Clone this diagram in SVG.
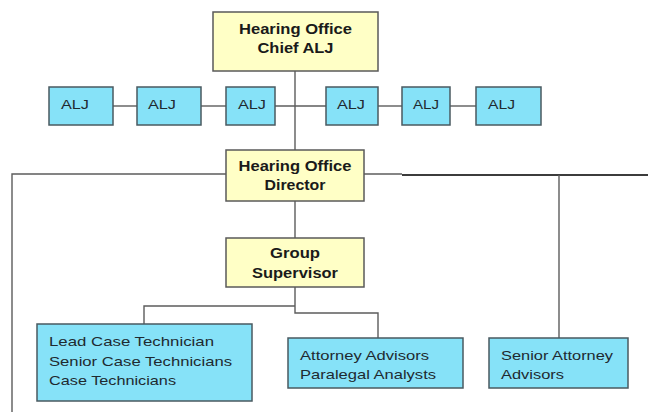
<svg xmlns="http://www.w3.org/2000/svg" width="648" height="412" viewBox="0 0 648 412">
<style>
.y{fill:#FFFFC6;stroke:#5a5a5a;stroke-width:1.5}
.b{fill:#86E2F8;stroke:#4a5a60;stroke-width:1.5}
.tb{font-family:"Liberation Sans",Arial,sans-serif;font-size:14px;font-weight:bold;fill:#1a1a1a;text-anchor:middle}
.t{font-family:"Liberation Sans",Arial,sans-serif;font-size:13.5px;fill:#1f2a30}
.c{stroke:#5c5c5c;stroke-width:1.4;fill:none}
</style>
<rect width="648" height="412" fill="#fff"/>
<g id="connectors">
<line class="c" x1="295" y1="71" x2="295" y2="150"/>
<line class="c" x1="113" y1="106" x2="137" y2="106"/>
<line class="c" x1="201" y1="106" x2="226" y2="106"/>
<line class="c" x1="275" y1="106" x2="326" y2="106"/>
<line class="c" x1="378" y1="106" x2="402" y2="106"/>
<line class="c" x1="450" y1="106" x2="476" y2="106"/>
<polyline class="c" points="226,174 12,174 12,412"/>
<line class="c" x1="364" y1="174" x2="402" y2="174"/>
<line x1="402" y1="175" x2="648" y2="175" stroke="#3c3c3c" stroke-width="2"/>
<line class="c" x1="559" y1="175" x2="559" y2="338"/>
<line class="c" x1="295" y1="201" x2="295" y2="238"/>
<polyline class="c" points="295,287 295,313 378,313 378,338"/>
<polyline class="c" points="295,306 144,306 144,324"/>
</g>
<g id="chief">
<rect class="y" x="213" y="12" width="165" height="59"/>
<text class="tb" x="295.5" y="34" textLength="113" lengthAdjust="spacingAndGlyphs">Hearing Office</text>
<text class="tb" x="295.5" y="53" textLength="76" lengthAdjust="spacingAndGlyphs">Chief ALJ</text>
</g>
<g id="alj1"><rect class="b" x="49" y="87" width="64" height="38"/><text class="t" x="61" y="109" textLength="28" lengthAdjust="spacingAndGlyphs">ALJ</text></g>
<g id="alj2"><rect class="b" x="137" y="87" width="64" height="38"/><text class="t" x="148" y="109" textLength="28" lengthAdjust="spacingAndGlyphs">ALJ</text></g>
<g id="alj3"><rect class="b" x="226" y="87" width="49" height="38"/><text class="t" x="238" y="109" textLength="28" lengthAdjust="spacingAndGlyphs">ALJ</text></g>
<g id="alj4"><rect class="b" x="326" y="87" width="52" height="38"/><text class="t" x="337" y="109" textLength="28" lengthAdjust="spacingAndGlyphs">ALJ</text></g>
<g id="alj5"><rect class="b" x="402" y="87" width="48" height="38"/><text class="t" x="413" y="109" textLength="26" lengthAdjust="spacingAndGlyphs">ALJ</text></g>
<g id="alj6"><rect class="b" x="476" y="87" width="65" height="38"/><text class="t" x="488" y="109" textLength="27" lengthAdjust="spacingAndGlyphs">ALJ</text></g>
<g id="director">
<rect class="y" x="226" y="150" width="138" height="51"/>
<text class="tb" x="295" y="171" textLength="113" lengthAdjust="spacingAndGlyphs">Hearing Office</text>
<text class="tb" x="295" y="190" textLength="61" lengthAdjust="spacingAndGlyphs">Director</text>
</g>
<g id="supervisor">
<rect class="y" x="226" y="238" width="138" height="49"/>
<text class="tb" x="295" y="258" textLength="50" lengthAdjust="spacingAndGlyphs">Group</text>
<text class="tb" x="295" y="278" textLength="86" lengthAdjust="spacingAndGlyphs">Supervisor</text>
</g>
<g id="technicians">
<rect class="b" x="37" y="324" width="215" height="77"/>
<text class="t" x="49" y="346" textLength="165" lengthAdjust="spacingAndGlyphs">Lead Case Technician</text>
<text class="t" x="49" y="366" textLength="183" lengthAdjust="spacingAndGlyphs">Senior Case Technicians</text>
<text class="t" x="49" y="385" textLength="127" lengthAdjust="spacingAndGlyphs">Case Technicians</text>
</g>
<g id="attorney">
<rect class="b" x="288" y="338" width="175" height="50"/>
<text class="t" x="300" y="360" textLength="129" lengthAdjust="spacingAndGlyphs">Attorney Advisors</text>
<text class="t" x="300" y="379" textLength="136" lengthAdjust="spacingAndGlyphs">Paralegal Analysts</text>
</g>
<g id="senior-attorney">
<rect class="b" x="489" y="338" width="139" height="50"/>
<text class="t" x="501" y="360" textLength="112" lengthAdjust="spacingAndGlyphs">Senior Attorney</text>
<text class="t" x="501" y="379" textLength="63" lengthAdjust="spacingAndGlyphs">Advisors</text>
</g>
</svg>
